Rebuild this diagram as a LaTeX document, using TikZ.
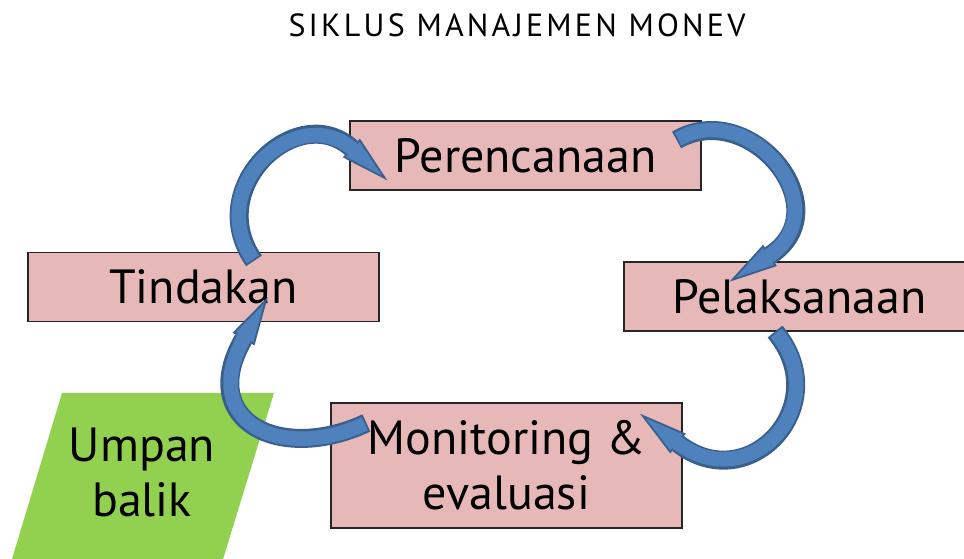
\documentclass[tikz,border=0pt]{standalone}
\usepackage{fontspec}
\setmainfont{PT Sans}
\usetikzlibrary{calc,shapes.geometric}
\definecolor{boxpink}{HTML}{E6B9B8}
\definecolor{feedgreen}{HTML}{92D050}
\definecolor{arrowblue}{HTML}{4F81BD}
\definecolor{arrowedge}{HTML}{3A5F8D}

\tikzset{
  stage/.style={draw=black!85, line width=1.2pt, fill=boxpink, minimum width=351pt,
    minimum height=69pt, inner sep=0pt, align=center, font=\fontsize{48}{55}\selectfont},
  shaftedge/.style={draw=arrowedge, line width=19pt},
  shaftfill/.style={draw=arrowblue, line width=14.5pt, shorten <=1.8pt, shorten >=-3pt},
  headtip/.style={isosceles triangle, isosceles triangle stretches, minimum width=23pt,
    minimum height=44pt, inner sep=0pt, fill=arrowblue, draw=arrowedge, line width=1.8pt,
    anchor=west, sloped, allow upside down}
}

% thick curved arrow between two boxes
\newcommand{\cyclearrow}[4]{%
  \draw[shaftedge] (#1) .. controls +(#2) and +(#3) .. (#4) node[pos=1, headtip] {};
  \draw[shaftfill] (#1) .. controls +(#2) and +(#3) .. (#4);
}

\begin{document}
\begin{tikzpicture}[x=1pt, y=1pt]
  \useasboundingbox (0, 0) rectangle (964, 559);
  \clip (0, 0) rectangle (964, 559);

  \node[anchor=base, font=\fontsize{32}{38}\selectfont\addfontfeatures{LetterSpace=10}] (title) at (517, 522) {SIKLUS MANAJEMEN MONEV};

  \fill[feedgreen] (62, 166) -- (274, 166) -- (220, -10) -- (9, -10) -- cycle;
  \node[align=center, font=\fontsize{48}{55}\selectfont] (feedback) at (142, 86.5) {Umpan\\balik};

  \node[stage] (plan) at (525.5, 403.5) {Perencanaan};
  \node[stage] (act) at (203.5, 272) {Tindakan};
  \node[stage] (exec) at (799.5, 262.5) {Pelaksanaan};
  \node[stage, minimum height=125pt] (monev) at (506.5, 93.5) {Monitoring \&\\evaluasi};

  \coordinate (a1s) at ($(act.north)+(50.5, -9)$);
  \coordinate (a1e) at ($(plan.west)+(2, 7.5)$);
  \coordinate (a2s) at ($(plan.east)+(-25, 15.5)$);
  \coordinate (a2e) at ($(exec.north)+(-29.5, 6)$);
  \coordinate (a3s) at ($(exec.south)+(-24.5, 0)$);
  \coordinate (a3e) at ($(monev.east)+(-4.5, 22)$);
  \coordinate (a4s) at ($(monev.west)+(36, 42.5)$);
  \coordinate (a4e) at ($(act.south)+(40, -17)$);

  \cyclearrow{a1s}{125:90}{138:72}{a1e}
  \cyclearrow{a2s}{30:85}{33:85}{a2e}
  \cyclearrow{a3s}{-50:95}{-38:90}{a3e}
  \cyclearrow{a4s}{205:95}{240:95}{a4e}
\end{tikzpicture}
\end{document}
